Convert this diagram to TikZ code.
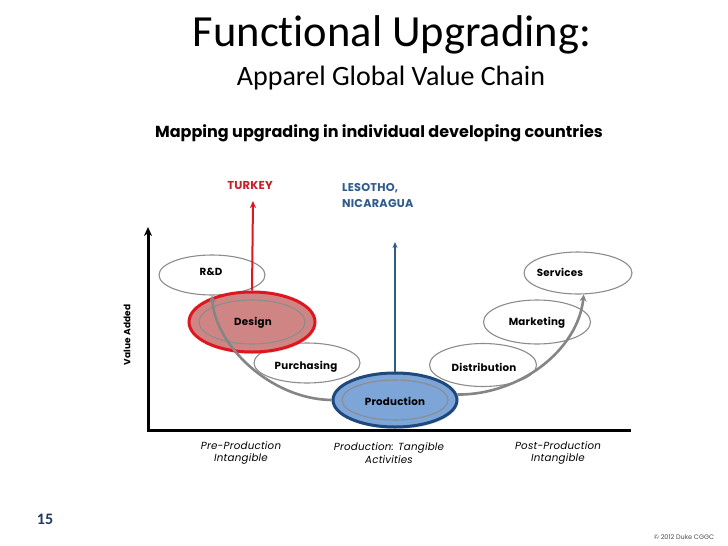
\documentclass[tikz,border=0pt]{standalone}
\usepackage{fontspec}
\setmainfont{Carlito}[Ligatures=NoCommon]
\newfontfamily\fut{Poppins}[LetterSpace=2]
\newfontfamily\futn{Poppins}
\usetikzlibrary{shapes.geometric,arrows.meta,shadows}
\definecolor{dred}{HTML}{E0161E}
\definecolor{pinkfill}{HTML}{D08585}
\definecolor{bfill}{HTML}{7DA5D8}
\definecolor{bborder}{HTML}{1F497D}
\definecolor{ellgray}{HTML}{8C8C8C}
\definecolor{arrgray}{HTML}{858585}
\definecolor{tred}{HTML}{C8202A}
\definecolor{tblue}{HTML}{2E5A8C}
\definecolor{numblue}{HTML}{1F3864}
\tikzset{
  ell/.style={ellipse, draw=ellgray, line width=1.1pt, fill=white, inner sep=0pt},
  lbl/.style={font=\fut\bfseries\fontsize{10.3}{12}\selectfont, text=black, inner sep=0pt},
  cat/.style={font=\fut\itshape\fontsize{10.3}{12.5}\selectfont, align=center, inner sep=0pt},
  curvearr/.style={draw=arrgray, line width=2.6pt, -{Stealth[length=7pt,width=7pt]}},
}
\begin{document}
\begin{tikzpicture}[x=1pt,y=-1pt]
\useasboundingbox[fill=white] (0,0) rectangle (728,546);
% titles
\node[font=\fontsize{44.5}{48}\selectfont] (title) at (392,35) {Functional Upgrading:};
\node[font=\fontsize{28}{32}\selectfont] (sub) at (391,78) {Apparel Global Value Chain};
\node[font=\futn\bfseries\fontsize{16}{18}\selectfont] (map) at (379,133) {Mapping upgrading in individual developing countries};
% axes
\coordinate (origin) at (148,430);
\coordinate (ytip) at (148,227);
\coordinate (xend) at (631,430);
\draw[line width=3pt, -{Stealth[length=9pt,width=8pt]}] (xend) -- (origin) -- (ytip);
\node[font=\fut\bfseries\fontsize{9}{10}\selectfont, rotate=90] (va) at (127,335) {Value Added};
% ellipses
\node[ell, minimum width=106pt, minimum height=40pt] (rd) at (212,275) {};
\node[ell, minimum width=106pt, minimum height=40pt] (pur) at (307,363) {};
\node[ell, minimum width=107pt, minimum height=43pt] (dist) at (483,365) {};
\node[ell, minimum width=107pt, minimum height=44pt] (mkt) at (537,322) {};
\node[ell, minimum width=108pt, minimum height=42pt] (serv) at (578,273) {};
\node[ellipse, draw=dred, line width=3pt, fill=pinkfill, minimum width=126pt, minimum height=60pt, inner sep=0pt,
  drop shadow={opacity=0.25, shadow xshift=1pt, shadow yshift=-2pt}] (des) at (252,322) {};
\draw[ellgray, line width=1.1pt] (des.center) ellipse (53pt and 22pt);
\node[ellipse, draw=bborder, line width=3pt, fill=bfill, minimum width=124pt, minimum height=54pt, inner sep=0pt,
  drop shadow={opacity=0.25, shadow xshift=1pt, shadow yshift=-2pt}] (prod) at (395,400) {};
\draw[ellgray, line width=1.1pt] (prod.center) ellipse (53pt and 20pt);
% labels
\node[lbl] (trd) at (211,272) {R\&D};
\node[lbl] (tdes) at (253,323) {Design};
\node[lbl] (tpur) at (306,367) {Purchasing};
\node[lbl] (tprod) at (395,401) {Production};
\node[lbl] (tdist) at (484,367) {Distribution};
\node[lbl] (tmkt) at (537,323) {Marketing};
\node[lbl] (tserv) at (560,272) {Services};
% curved arrows
\draw[curvearr] (prod.west) .. controls (270,399) and (215,345) .. (rd.south);
\draw[curvearr] (prod.5) .. controls (520,395) and (578,350) .. (serv.-75);
% upgrading arrows
\coordinate (ttip) at (253,201);
\coordinate (btip) at (395,242);
\draw[dred, line width=2pt, -{Stealth[length=7pt,width=6pt]}] (des.north) -- (ttip);
\draw[tblue, line width=2pt, -{Stealth[length=6pt,width=5pt]}] (prod.north) -- (btip);
\node[font=\fut\bfseries\fontsize{11.5}{12}\selectfont, text=tred] (turkey) at (250,186) {TURKEY};
\node[font=\fut\bfseries\fontsize{11.3}{16}\selectfont, text=tblue, align=left, anchor=west, inner sep=0pt] (les) at (342,196) {LESOTHO,\\NICARAGUA};
% categories
\node[cat] (c1) at (241,453) {Pre-Production\\Intangible};
\node[cat] (c2) at (389,453) {Production: Tangible\\Activities};
\node[cat] (c3) at (558,453) {Post-Production\\Intangible};
% footer
\node[font=\bfseries\fontsize{16}{18}\selectfont, text=numblue] (num) at (45,519) {15};
\node[font=\futn\fontsize{6.5}{8}\selectfont, text=black!70] (copy) at (684,537) {© 2012 Duke CGGC};
\end{tikzpicture}
\end{document}
